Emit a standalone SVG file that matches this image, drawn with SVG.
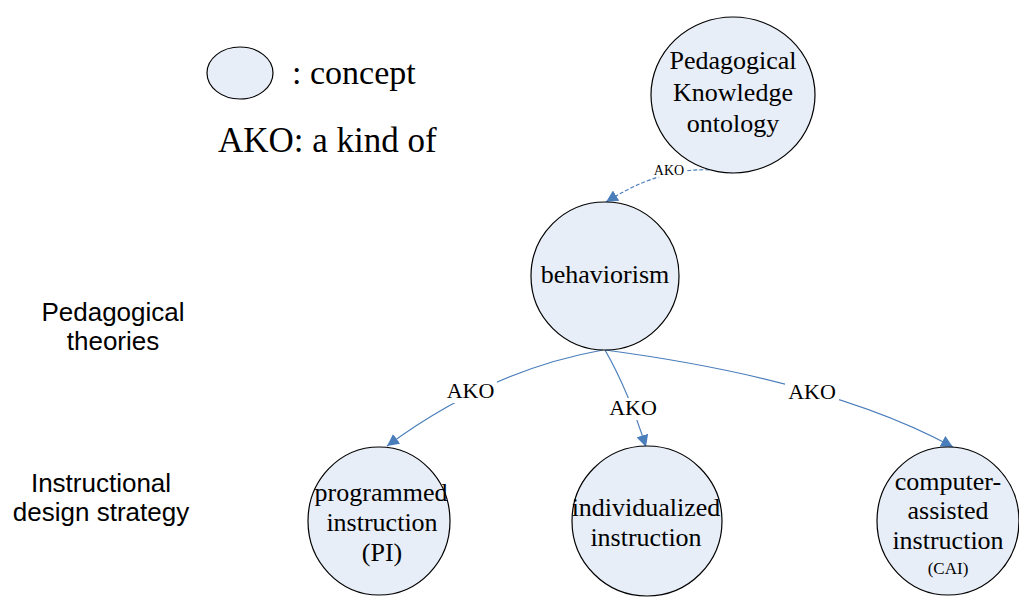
<svg xmlns="http://www.w3.org/2000/svg" width="1019" height="599" viewBox="0 0 1019 599">
<style>
.node{fill:#e8eef7;stroke:#000;stroke-width:1.2}
.nt{font-family:"Liberation Serif","Times New Roman",serif;font-size:26px;fill:#000;text-anchor:middle}
.side{font-family:"Liberation Sans",Arial,sans-serif;font-size:26px;fill:#000;text-anchor:middle}
.leg{font-family:"Liberation Serif","Times New Roman",serif;font-size:34px;fill:#000}
.con{fill:none;stroke:#4a7ebb;stroke-width:1.2}
.dash{stroke-dasharray:4 2}
.lbl{font-family:"Liberation Serif","Times New Roman",serif;font-size:22px;fill:#000;text-anchor:middle}
.bg{fill:#fff}
</style>
<defs>
<marker id="arr" viewBox="0 0 10 10" refX="10" refY="5" markerWidth="12" markerHeight="12" markerUnits="userSpaceOnUse" orient="auto">
<path d="M0,0 L10,5 L0,10 z" fill="#4a7ebb"/>
</marker>
</defs>
<rect width="1019" height="599" fill="#fff"/>

<g id="legend">
<ellipse class="node" cx="240" cy="73" rx="33" ry="26"/>
<text class="leg" x="292" y="84">: concept</text>
<text class="leg" x="218" y="152" style="font-size:35px">AKO: a kind of</text>
</g>

<g id="side-labels">
<text class="side" x="113" y="321">Pedagogical</text>
<text class="side" x="113" y="350">theories</text>
<text class="side" x="101" y="492">Instructional</text>
<text class="side" x="101" y="521">design strategy</text>
</g>

<g id="connectors">
<path class="con dash" d="M733,173 C700,166 660,168 606,202" marker-end="url(#arr)"/>
<path class="con" d="M603,350 Q490,370 387,446" marker-end="url(#arr)"/>
<path class="con" d="M605,350 Q628,390 646,447" marker-end="url(#arr)"/>
<path class="con" d="M605,350 Q830,380 953,447" marker-end="url(#arr)"/>
<rect class="bg" x="653" y="163" width="33" height="14"/>
<text class="lbl" x="669" y="175" style="font-size:14px">AKO</text>
<rect class="bg" x="444" y="381" width="53" height="22"/>
<text class="lbl" x="470.5" y="398">AKO</text>
<rect class="bg" x="606" y="398" width="54" height="22"/>
<text class="lbl" x="633" y="415">AKO</text>
<rect class="bg" x="785" y="382" width="54" height="22"/>
<text class="lbl" x="812" y="399">AKO</text>
</g>

<g id="pedagogical-knowledge-ontology">
<ellipse class="node" cx="733" cy="95" rx="82" ry="78"/>
<text class="nt" x="733" y="69">Pedagogical</text>
<text class="nt" x="733" y="101">Knowledge</text>
<text class="nt" x="733" y="132">ontology</text>
</g>

<g id="behaviorism">
<ellipse class="node" cx="605" cy="276" rx="74" ry="74"/>
<text class="nt" x="605" y="283">behaviorism</text>
</g>

<g id="programmed-instruction">
<ellipse class="node" cx="379" cy="521" rx="71" ry="74"/>
<text class="nt" x="381" y="501">programmed</text>
<text class="nt" x="382" y="531">instruction</text>
<text class="nt" x="382" y="561">(PI)</text>
</g>

<g id="individualized-instruction">
<ellipse class="node" cx="647" cy="521" rx="75" ry="75"/>
<text class="nt" x="646" y="516">individualized</text>
<text class="nt" x="646" y="546">instruction</text>
</g>

<g id="computer-assisted-instruction">
<ellipse class="node" cx="948" cy="521" rx="71" ry="74"/>
<text class="nt" x="948" y="490">computer-</text>
<text class="nt" x="948" y="519">assisted</text>
<text class="nt" x="948" y="549">instruction</text>
<text class="nt" x="948" y="574" style="font-size:17px">(CAI)</text>
</g>
</svg>
